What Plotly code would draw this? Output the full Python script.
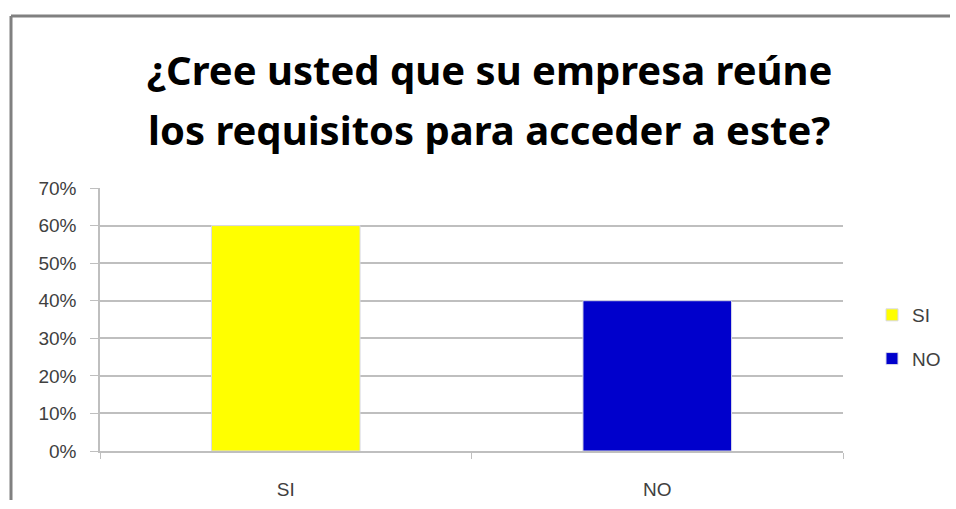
import plotly.graph_objects as go

categories = ["SI", "NO"]
values = [0.60, 0.40]
colors = ["#FFFF00", "#0000CC"]
title_lines = ["¿Cree usted que su empresa reúne", "los requisitos para acceder a este?"]
y_ticks = [0, 0.1, 0.2, 0.3, 0.4, 0.5, 0.6, 0.7]

fig = go.Figure()
for c, v, col in zip(categories, values, colors):
    fig.add_trace(go.Bar(
        x=[c], y=[v], name=c, legendgroup=c,
        marker=dict(color=col, line=dict(color="#D8D8E8", width=1)),
        width=0.4, offset=-0.2,
    ))

W, H = 956, 509
ml, mr, mt, mb = 100, 113, 188, 58
pw, ph = W - ml - mr, H - mt - mb

def px(x):
    return (x - ml) / pw

def py(y):
    return (H - mb - y) / ph

fig.update_layout(
    width=W, height=H,
    margin=dict(l=ml, r=mr, t=mt, b=mb, autoexpand=False),
    paper_bgcolor="white", plot_bgcolor="white",
    showlegend=True,
    barmode="overlay",
    legend=dict(x=px(872), y=py(296), xanchor="left", yanchor="top",
                font=dict(family="Liberation Sans, Arial", size=19, color="#404040"),
                itemwidth=30, tracegroupgap=16, bgcolor="rgba(0,0,0,0)"),
    font=dict(family="Liberation Sans, Arial", color="#404040"),
    yaxis=dict(range=[0, 0.7], tickvals=y_ticks, tickformat=".0%",
               showgrid=True, gridcolor="#BFBFBF", gridwidth=1.5,
               showline=True, linecolor="#BFBFBF", linewidth=1.5,
               ticks="outside", ticklen=8, tickcolor="#BFBFBF",
               ticklabelstandoff=10,
               tickfont=dict(size=19, color="#404040"), zeroline=False),
    xaxis=dict(showline=True, linecolor="#BFBFBF", linewidth=1.5,
               ticks="outside", tickson="boundaries", ticklen=6, tickcolor="#BFBFBF",
               ticklabelstandoff=20,
               tickfont=dict(size=19, color="#404040"), showgrid=False),
    annotations=[
        dict(text=title_lines[0], xref="paper", yref="paper",
             x=px(489), y=py(69), xanchor="center", yanchor="middle", showarrow=False,
             font=dict(family="Noto Sans", size=40, color="black", weight="bold")),
        dict(text=title_lines[1], xref="paper", yref="paper",
             x=px(489), y=py(129), xanchor="center", yanchor="middle", showarrow=False,
             font=dict(family="Noto Sans", size=40, color="black", weight="bold")),
    ],
    shapes=[
        dict(type="line", xref="paper", yref="paper", x0=px(11), x1=px(950), y0=py(16), y1=py(16),
             line=dict(color="#808080", width=3)),
        dict(type="line", xref="paper", yref="paper", x0=px(11), x1=px(11), y0=py(16), y1=py(500),
             line=dict(color="#808080", width=3)),
    ],
)

fig.write_html("out.html", config={"displayModeBar": False},
               post_script="document.body.style.margin='0';")
